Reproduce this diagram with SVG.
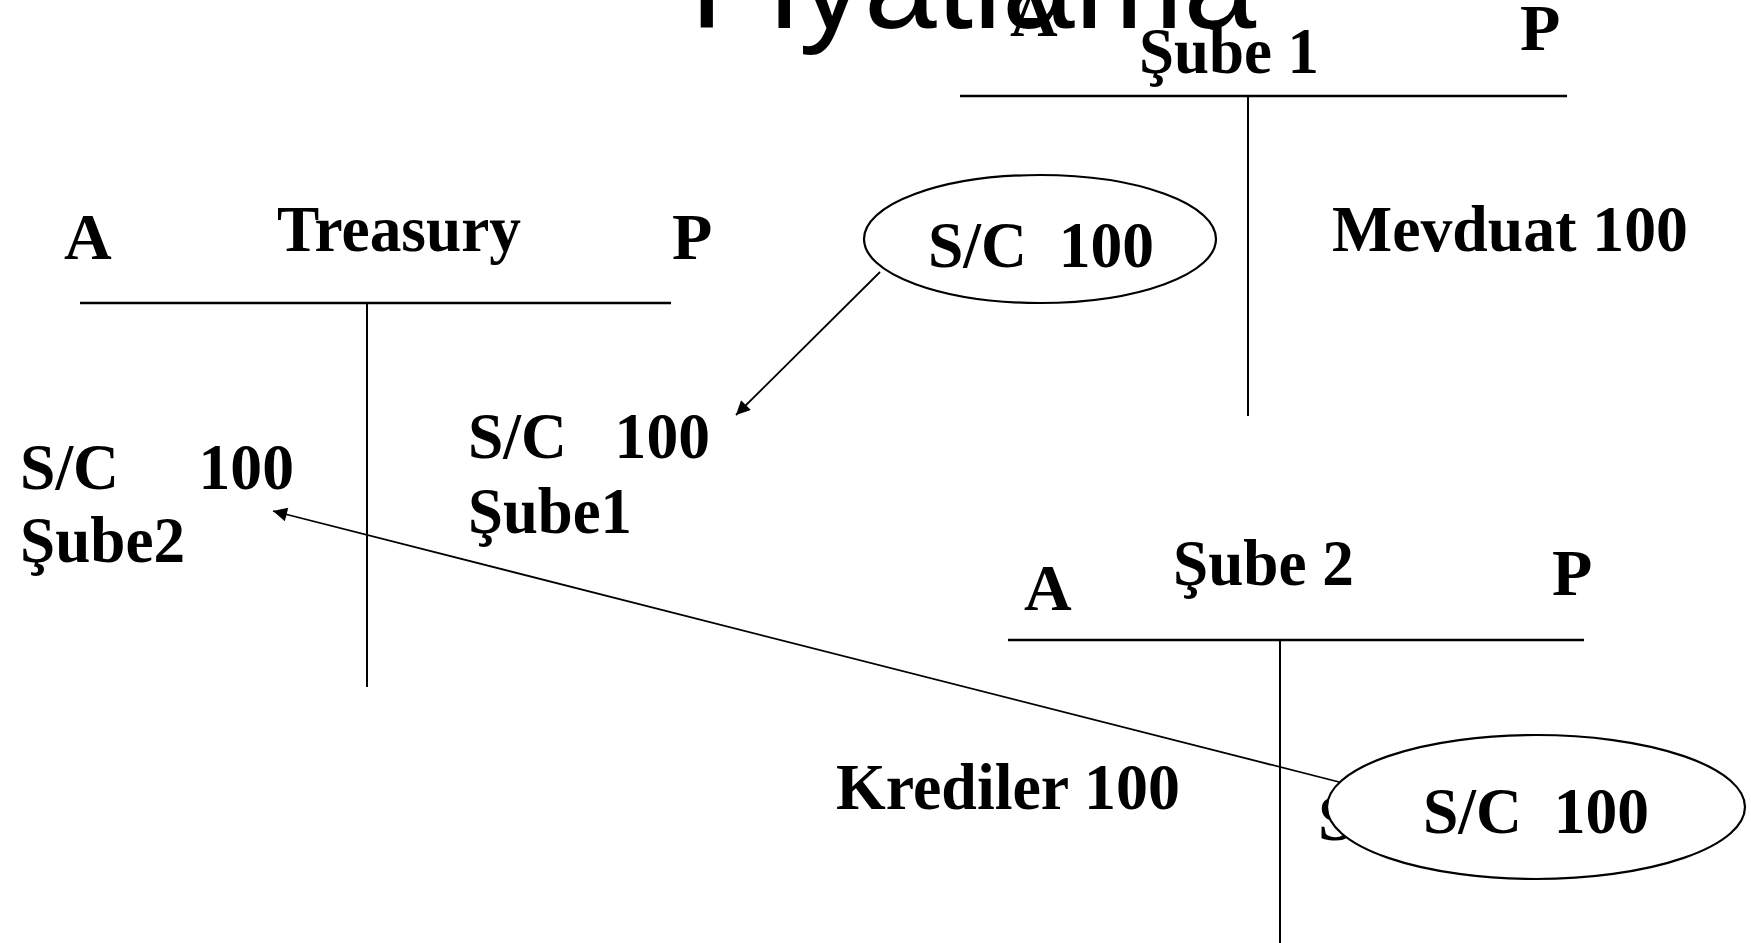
<svg xmlns="http://www.w3.org/2000/svg" width="1751" height="943" viewBox="0 0 1751 943">
<style>
.t{font-family:"Liberation Serif","Times New Roman",serif;font-weight:bold;font-size:66px;fill:#000;white-space:pre}
.title{font-family:"Liberation Sans",Arial,sans-serif;font-size:128px;fill:#000}
.ln{stroke:#000;stroke-width:2.5;fill:none}
.vl{stroke:#000;stroke-width:2;fill:none}
.el{stroke:#000;stroke-width:2.2;fill:#fff}
.ar{stroke:#000;stroke-width:1.8;fill:none}
</style>
<defs>
<marker id="ah2" viewBox="0 0 10 10" refX="10" refY="5" markerWidth="18" markerHeight="14" markerUnits="userSpaceOnUse" orient="auto">
<path d="M0,0 L10,5 L0,10 z" fill="#000"/>
</marker>
</defs>
<rect width="1751" height="943" fill="#fff"/>
<g id="title">
<text class="title" x="690" y="28" textLength="566" lengthAdjust="spacingAndGlyphs">Fiyatlama</text>
</g>
<g id="treasury">
<text class="t" x="64" y="259">A</text>
<text class="t" x="277" y="251" textLength="244" lengthAdjust="spacingAndGlyphs">Treasury</text>
<text class="t" x="672" y="259">P</text>
<line class="ln" x1="80" y1="303" x2="671" y2="303"/>
<line class="vl" x1="367" y1="303" x2="367" y2="687"/>
<text class="t" x="20" y="489" textLength="274" lengthAdjust="spacingAndGlyphs">S/C     100</text>
<text class="t" x="20" y="562" textLength="165" lengthAdjust="spacingAndGlyphs">Şube2</text>
<text class="t" x="468" y="458" textLength="242" lengthAdjust="spacingAndGlyphs">S/C   100</text>
<text class="t" x="468" y="533" textLength="164" lengthAdjust="spacingAndGlyphs">Şube1</text>
</g>
<g id="sube1">
<text class="t" x="1010" y="36">A</text>
<text class="t" x="1139" y="73" textLength="180" lengthAdjust="spacingAndGlyphs">Şube 1</text>
<text class="t" x="1520" y="50">P</text>
<line class="ln" x1="960" y1="96" x2="1567" y2="96"/>
<line class="vl" x1="1248" y1="96" x2="1248" y2="416"/>
<text class="t" x="1332" y="251" textLength="356" lengthAdjust="spacingAndGlyphs">Mevduat 100</text>
</g>
<g id="sube2">
<text class="t" x="1024" y="610">A</text>
<text class="t" x="1173" y="585" textLength="181" lengthAdjust="spacingAndGlyphs">Şube 2</text>
<text class="t" x="1552" y="595">P</text>
<line class="ln" x1="1008" y1="640" x2="1584" y2="640"/>
<line class="vl" x1="1280" y1="640" x2="1280" y2="943"/>
<text class="t" x="836" y="809" textLength="344" lengthAdjust="spacingAndGlyphs">Krediler 100</text>
<text class="t" x="1318" y="840">S</text>
</g>
<g id="connectors">
<line class="ar" x1="880" y1="272" x2="736" y2="415" marker-end="url(#ah2)"/>
<line class="ar" x1="1343" y1="783" x2="273" y2="511" marker-end="url(#ah2)"/>
</g>
<g id="ellipse1">
<ellipse class="el" cx="1040" cy="239" rx="176" ry="64"/>
<text class="t" x="928" y="267" textLength="226" lengthAdjust="spacingAndGlyphs">S/C  100</text>
</g>
<g id="ellipse2">
<ellipse class="el" cx="1536" cy="807" rx="209" ry="72"/>
<text class="t" x="1423" y="833" textLength="226" lengthAdjust="spacingAndGlyphs">S/C  100</text>
</g>
</svg>
